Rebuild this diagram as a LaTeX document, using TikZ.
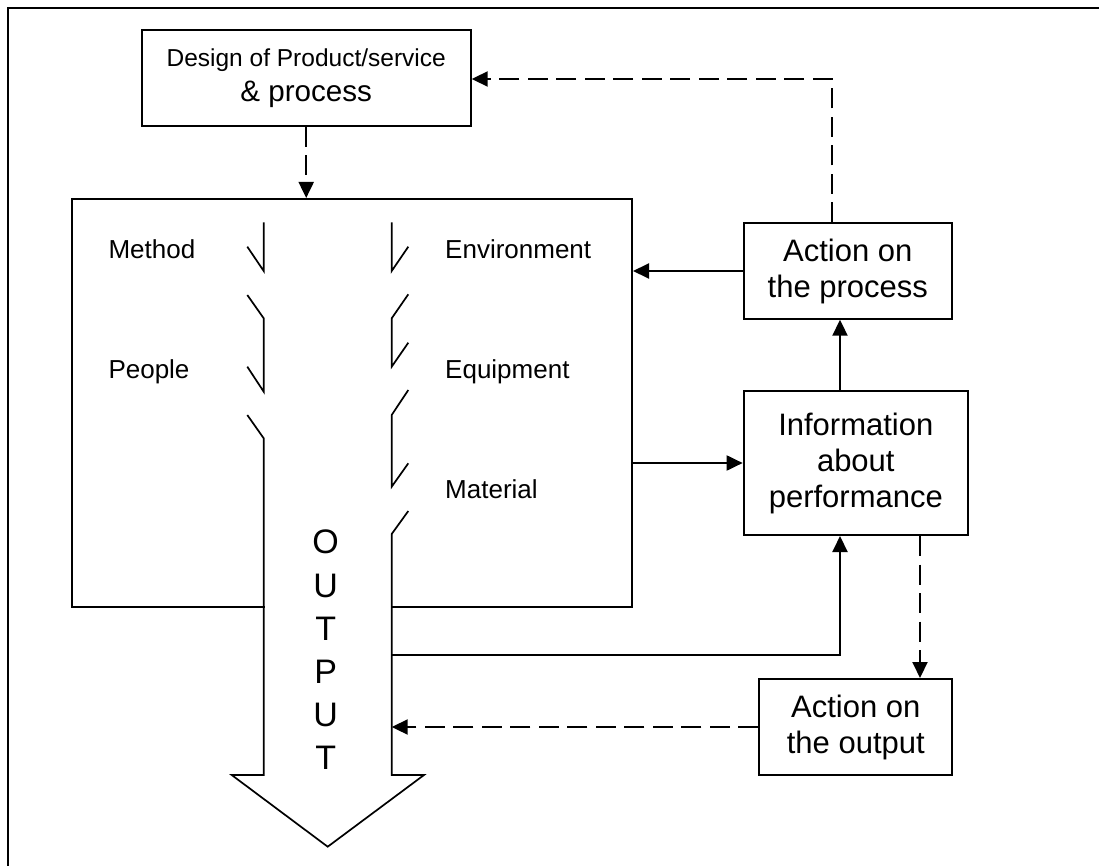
\documentclass[tikz,border=0pt]{standalone}
\usepackage{fontspec}
\setmainfont{Liberation Sans}
\usetikzlibrary{arrows.meta}
\begin{document}
\begin{tikzpicture}[x=1pt,y=-1pt,
  box/.style={draw, line width=2pt, rectangle, inner sep=0pt, align=center,
              font=\fontsize{31}{36}\selectfont},
  link/.style={line width=2pt, -{Triangle[length=16pt,width=15pt]}},
  dlink/.style={link, dash pattern=on 20pt off 8.5pt},
  shaft/.style={line width=1.7pt, line join=miter},
  lbl/.style={inner sep=0pt, anchor=base west, font=\fontsize{26}{30}\selectfont}]
\useasboundingbox (0,0) rectangle (1099,866);

% frame
\draw[line width=2.5pt] (8,866) -- (8,8) -- (1099,8);

% boxes
\node[box, minimum width=329pt, minimum height=96pt,
      font=\fontsize{29.6}{35}\selectfont] (design) at (306.2,78)
  {{\fontsize{24.5}{35}\selectfont Design of Product/service}\\\& process};
\node[draw, line width=2pt, inner sep=0pt, minimum width=560pt,
      minimum height=407.7pt] (main) at (352,402.85) {};
\node[box, minimum width=208.3pt, minimum height=95.4pt] (ap) at (847.8,271)
  {Action on\\the process};
\node[box, minimum width=224.3pt, minimum height=144pt] (info) at (855.8,463)
  {Information\\about\\performance};
\node[box, minimum width=193pt, minimum height=96pt] (ao) at (855.8,727)
  {Action on\\the output};

% output arrow: clear the box edge, then draw the broken shaft and head
\fill[white] (264.5,598) rectangle (391,616);
\draw[shaft] (247.3,246.7) -- (263.7,271) -- (263.7,222.3);
\draw[shaft] (247.3,295) -- (263.7,318.3) -- (263.7,391.7) -- (247.3,366.7);
\draw[shaft] (247.3,415) -- (263.7,438.3) -- (263.7,775) -- (231.7,775)
  -- (327.7,846.7) -- (424,775) -- (391.7,775) -- (391.7,534) -- (408.3,511);
\draw[shaft] (391.7,222.3) -- (391.7,271) -- (408.3,246.7);
\draw[shaft] (408.3,294.3) -- (391.7,318.3) -- (391.7,366.7) -- (408.3,342.7);
\draw[shaft] (408.3,390) -- (391.7,415) -- (391.7,486.7) -- (408.3,463.3);
\coordinate (shaftR) at (391.7,650);

\node[inner sep=0pt, align=center, font=\fontsize{34}{43.2}\selectfont]
  (out) at (325.7,650) {O\\U\\T\\P\\U\\T};

% factor labels
\node[lbl] (method) at (108.3,258.3) {Method};
\node[lbl] (people) at (108.3,378.3) {People};
\node[lbl] (env) at (445,258.3) {Environment};
\node[lbl] (equip) at (445,378) {Equipment};
\node[lbl] (mat) at (445,498) {Material};

% connectors
\coordinate (up) at (831.7,79);
\coordinate (fb) at (840,655);
\coordinate (dn) at (920,600);
\draw[dlink] (design.south) -- (design.south |- main.north);
\draw[dlink] (ap.north -| up) -- (up) -- (design.east |- up);
\draw[link] (ap.west) -- (ap.west -| main.east);
\draw[link] (info.west -| main.east) -- (info.west);
\draw[link] (info.north -| fb) -- (ap.south -| fb);
\draw[link] (shaftR |- fb) -- (fb) -- (info.south -| fb);
\draw[dlink] (info.south -| dn) -- (ao.north -| dn);
\draw[dlink] (ao.west) -- (ao.west -| shaftR);
\end{tikzpicture}
\end{document}
